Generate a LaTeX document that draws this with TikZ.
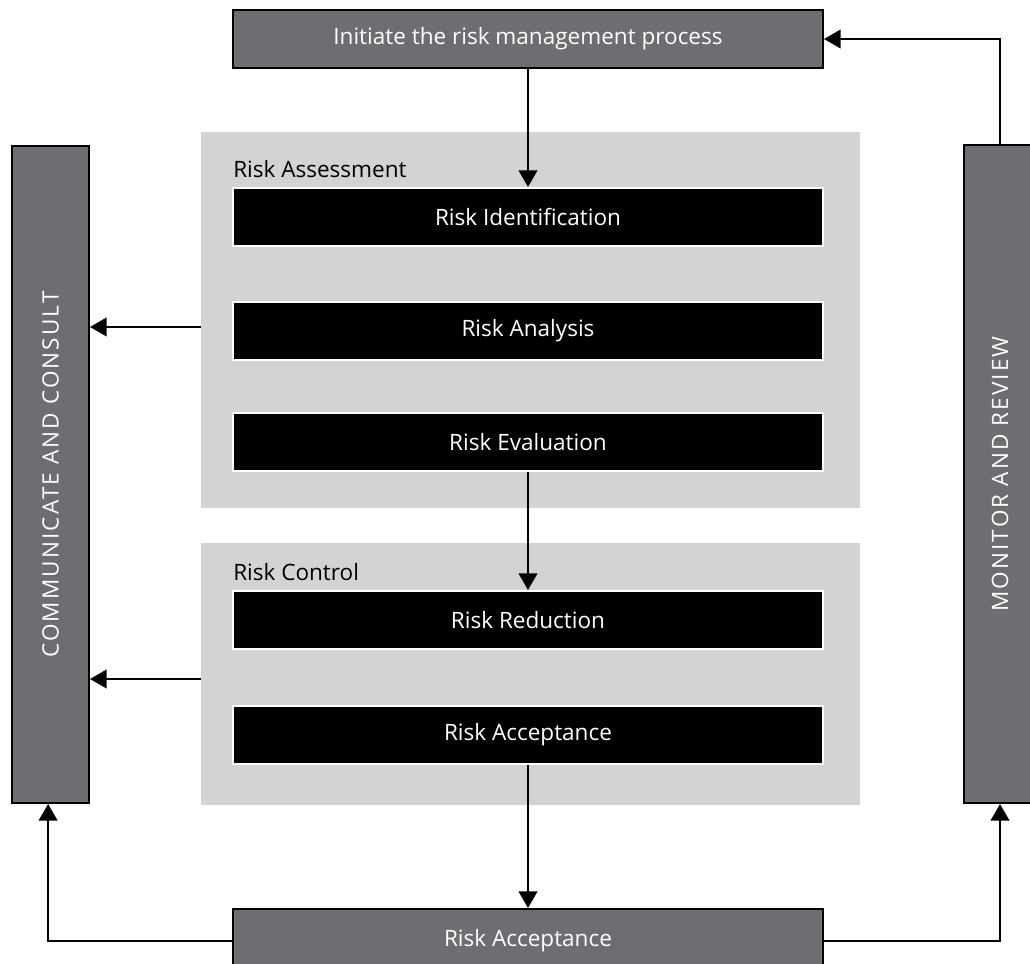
\documentclass[tikz,border=0pt]{standalone}
\usepackage{fontspec}
\setmainfont{Open Sans}
\newfontfamily\spacedfont[LetterSpace=9.5]{Open Sans}
\usetikzlibrary{arrows.meta}
\definecolor{boxgray}{HTML}{6D6E71}
\definecolor{panelgray}{HTML}{D1D3D4}
\begin{document}
\begin{tikzpicture}[x=0.75pt,y=-0.75pt,
  txt/.style={font=\fontsize{16.9}{20}\selectfont},
  sidetxt/.style={font=\spacedfont\fontsize{16.9}{20}\selectfont,text=white,rotate=90},
  darkbox/.style={txt,draw=black,line width=1.5pt,fill=boxgray,text=white,inner sep=0pt},
  blackbox/.style={txt,draw=white,line width=1.5pt,fill=black,text=white,inner sep=0pt,
    minimum width=442.5pt,minimum height=43.5pt},
  panel/.style={fill=panelgray,draw=none,inner sep=0pt,minimum width=494.25pt},
  grouplbl/.style={txt,anchor=base west,inner sep=0pt,text=black},
  arr/.style={line width=1.5pt,-{Triangle[width=14pt,length=12.5pt]}}]
\useasboundingbox (0,0) rectangle (1030,963);
\clip (0,0) rectangle (1030,963);
% panels
\node[panel,minimum height=282pt] (pa) at (530.5,320) {};
\node[panel,minimum height=196.5pt] (pc) at (530.5,674) {};
% side and end boxes
\node[darkbox,minimum width=442.5pt,minimum height=43.5pt] (top) at (528,39) {Initiate the risk management process};
\node[darkbox,minimum width=442.5pt,minimum height=48pt] (bot) at (528,941) {Risk Acceptance};
\node[darkbox,minimum width=57.75pt,minimum height=492.75pt] (lb) at (50.5,474.5) {};
\node[sidetxt] at (lb.center) {COMMUNICATE AND CONSULT};
\node[darkbox,minimum width=54pt,minimum height=493.5pt] (rb) at (1000,474) {};
\node[sidetxt] at (rb.center) {MONITOR AND REVIEW};
% group labels
\node[grouplbl] (la) at (233,177) {Risk Assessment};
\node[grouplbl] (lc) at (233,580) {Risk Control};
% black boxes
\node[blackbox] (ident) at (528,217) {Risk Identification};
\node[blackbox] (ana) at (528,331) {Risk Analysis};
\node[blackbox] (eval) at (528,442) {Risk Evaluation};
\node[blackbox] (red) at (528,620) {Risk Reduction};
\node[blackbox] (acc) at (528,735) {Risk Acceptance};
% connectors
\draw[arr] (top) -- (ident);
\draw[arr] (eval) -- (red);
\draw[arr] (acc) -- (bot);
\draw[arr] ([yshift=-5.25pt]pa.west) -- ([yshift=-5.25pt]pa.west -| lb.east);
\draw[arr] ([yshift=-3.75pt]pc.west) -- ([yshift=-3.75pt]pc.west -| lb.east);
\draw[arr] (bot.west) -| ([xshift=-1.8pt]lb.south);
\draw[arr] (bot.east) -| (rb.south);
\draw[arr] (rb.north) |- (top.east);
\end{tikzpicture}
\end{document}
